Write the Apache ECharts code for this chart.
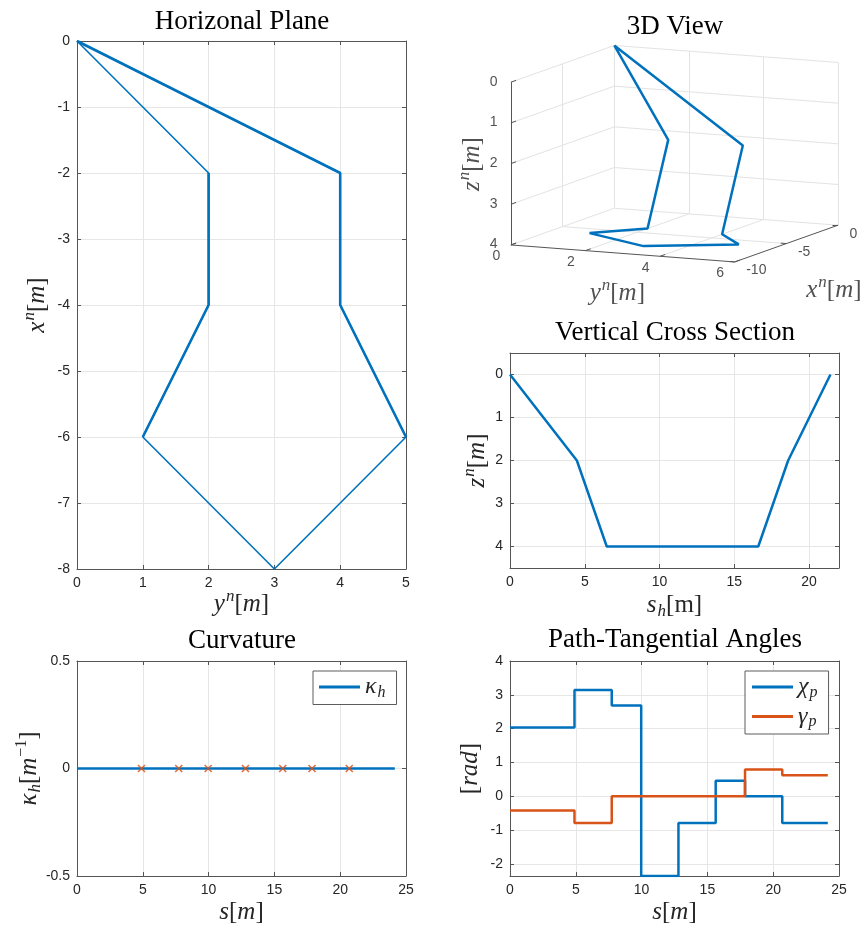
<!DOCTYPE html>
<html><head><meta charset="utf-8">
<script src="https://cdn.jsdelivr.net/npm/echarts@6/dist/echarts.min.js"></script>
<style>html,body{margin:0;padding:0;background:#fff}#c{width:868px;height:931px}</style>
</head><body><div id="c"></div>
<script>
// ---------------- data ----------------
const wpX = [0, -2, -4, -6, -8, -6, -4, -2, 0];      // x^n [m]
const wpY = [0, 4, 4, 5, 3, 1, 2, 2, 0];             // y^n [m]
const wpZ = [0, 2, 4, 4, 4, 4, 4, 2, 0];             // z^n [m]
const sH = [0, 4.47, 6.47, 8.71, 11.54, 14.37, 16.60, 18.60, 21.43];   // horizontal arc length
const sPath = [0, 4.90, 7.73, 9.97, 12.80, 15.63, 17.86, 20.69, 24.15]; // path length at knots
const kappaH = [0, 0, 0, 0, 0, 0, 0, 0, 0];
const chiP = [2.03, 3.14, 2.68, -2.36, -0.79, 0.46, 0.00, -0.79];
const gammaP = [-0.42, -0.79, 0, 0, 0, 0, 0.79, 0.62];
const ticks3dX = [-10, -5, 0];
const ticks3dY = [0, 2, 4, 6];
const ticks3dZ = [0, 1, 2, 3, 4];
const thickRuns = [[0, 3], [5, 7]];   // waypoint index runs drawn thicker in the horizontal plane

// ---------------- styles ----------------
const BLUE = '#0072BD', ORANGE = '#D95319';
const TXT = '#262626', AXC = '#555555', GRIDC = '#e6e6e6';
const SERIF = "'Liberation Serif', 'DejaVu Serif', serif";
const SANS = "'Liberation Sans', Arial, sans-serif";
const TICKFS = 14;
const richMath = {
  i: {fontFamily: SERIF, fontStyle: 'italic', fontSize: 25, color: TXT},
  r: {fontFamily: SERIF, fontSize: 25, color: TXT},
  sp: {fontFamily: SERIF, fontStyle: 'italic', fontSize: 17, color: TXT, padding: [0, 0, 15, 1]},
  spr: {fontFamily: SERIF, fontSize: 16, color: TXT, padding: [0, 0, 15, 1]},
  sb: {fontFamily: SERIF, fontStyle: 'italic', fontSize: 17, color: TXT, padding: [13, 0, 0, 1]}
};
const richLeg = {
  i: {fontFamily: SERIF, fontStyle: 'italic', fontSize: 24, color: TXT},
  sb: {fontFamily: SERIF, fontStyle: 'italic', fontSize: 16, color: TXT, padding: [11, 0, 0, 1]}
};

// ---------------- 3D projection (orthographic view) ----------------
const lim3d = {x: [-10, 0], y: [0, 6], z: [0, 4]};
const view3d = {cx: 674.5, cy: 153.7, az: 65.2, el: 9.45, Lxy: 246.5, Lz: 165};
function proj(X, Y, Z) {
  const u = (X - lim3d.x[0]) / (lim3d.x[1] - lim3d.x[0]) - 0.5;
  const v = (Y - lim3d.y[0]) / (lim3d.y[1] - lim3d.y[0]) - 0.5;
  const w = (Z - lim3d.z[0]) / (lim3d.z[1] - lim3d.z[0]) - 0.5;
  const a = view3d.az * Math.PI / 180, e = view3d.el * Math.PI / 180;
  const sx = view3d.cx + view3d.Lxy * (u * Math.cos(a) + v * Math.sin(a));
  const sy = view3d.cy - (view3d.Lxy * Math.sin(e) * (u * Math.sin(a) - v * Math.cos(a)) - view3d.Lz * Math.cos(e) * w);
  return [sx, sy];
}
const [X0, X1] = lim3d.x, [Y0, Y1] = lim3d.y, [Z0, Z1] = lim3d.z;
const grid3d = [];
ticks3dZ.forEach(z => grid3d.push([[X0, Y0, z], [X1, Y0, z]]));
ticks3dX.forEach(x => { if (x !== X0) grid3d.push([[x, Y0, Z0], [x, Y0, Z1]]); });
ticks3dZ.forEach(z => grid3d.push([[X1, Y0, z], [X1, Y1, z]]));
ticks3dY.forEach(y => { if (y !== Y0) grid3d.push([[X1, y, Z0], [X1, y, Z1]]); });
ticks3dY.forEach(y => { if (y !== Y0 && y !== Y1) grid3d.push([[X0, y, Z1], [X1, y, Z1]]); });
ticks3dX.forEach(x => { if (x !== X0 && x !== X1) grid3d.push([[x, Y0, Z1], [x, Y1, Z1]]); });
const axes3d = [[[X0, Y0, Z0], [X0, Y0, Z1]], [[X0, Y0, Z1], [X0, Y1, Z1]], [[X0, Y1, Z1], [X1, Y1, Z1]]];
const tickSeg3d = [];
ticks3dZ.forEach(z => tickSeg3d.push([[X0, Y0, z], [X0 + 0.5, Y0, z]]));
ticks3dY.forEach(y => tickSeg3d.push([[X0, y, Z1], [X0 + 0.5, y, Z1]]));
ticks3dX.forEach(x => tickSeg3d.push([[x, Y1, Z1], [x, Y1 - 0.15, Z1]]));
const segData = segs => segs.map(s => ({coords: [proj(...s[0]), proj(...s[1])]}));

// ---------------- axes helpers ----------------
function axis(dir, gi, o, mirror) {
  const a = Object.assign({
    type: 'value', gridIndex: gi,
    axisLine: {show: true, onZero: false, lineStyle: {color: AXC, width: 1}},
    axisTick: {show: true, inside: true, length: 4, lineStyle: {color: AXC, width: 1}},
    axisLabel: {show: !mirror, color: TXT, fontFamily: SANS, fontSize: TICKFS, margin: 7},
    splitLine: {show: !mirror, lineStyle: {color: GRIDC, width: 1}},
    nameLocation: 'middle', nameMoveOverlap: false,
    nameTextStyle: {rich: richMath, fontFamily: SERIF, fontSize: 25, color: TXT}
  }, o);
  if (mirror) { delete a.name; a.position = dir === 'x' ? 'top' : 'right'; a.axisLabel = {show: false}; }
  else a.position = dir === 'x' ? 'bottom' : 'left';
  return a;
}
const intOnly = v => (Math.abs(v - Math.round(v)) < 1e-9 ? String(Math.round(v)) : '');
const mult5 = v => (Math.abs(v / 5 - Math.round(v / 5)) < 1e-9 ? String(v) : '');
const lab = f => ({show: true, color: TXT, fontFamily: SANS, fontSize: TICKFS, margin: 7, formatter: f});

const ax0x = {min: 0, max: 5, interval: 1, name: '{i|y}{sp|n}{r|[}{i|m}{r|]}', nameGap: 19};
const ax0y = {min: -8, max: 0, interval: 1, name: '{i|x}{sp|n}{r|[}{i|m}{r|]}', nameGap: 24};
const ax2x = {min: 0, max: 22, interval: 5, name: '{i|s}{sb|h}{r|[m]}', nameGap: 22};
const ax2y = {min: -0.5, max: 4.5, minInterval: 1, maxInterval: 1, inverse: true, name: '{i|z}{sp|n}{r|[}{i|m}{r|]}', nameGap: 17};
const ax3x = {min: 0, max: 25, interval: 5, name: '{i|s}{r|[}{i|m}{r|]}', nameGap: 24};
const ax3y = {min: -0.5, max: 0.5, interval: 0.5, name: '{i|κ}{sb|h}{r|[}{i|m}{spr|−1}{r|]}', nameGap: 32};
const ax4x = {min: 0, max: 25, interval: 5, name: '{i|s}{r|[}{i|m}{r|]}', nameGap: 24};
const ax4y = {min: -2.36, max: 4, minInterval: 1, maxInterval: 1, name: '{r|[}{i|rad}{r|]}', nameGap: 27};

const xAxes = [
  axis('x', 0, ax0x), axis('x', 0, ax0x, true),
  {type: 'value', gridIndex: 1, min: 0, max: 868, show: false},
  axis('x', 2, Object.assign({}, ax2x, {axisLabel: lab(mult5)})), axis('x', 2, ax2x, true),
  axis('x', 3, ax3x), axis('x', 3, ax3x, true),
  axis('x', 4, ax4x), axis('x', 4, ax4x, true)
];
const yAxes = [
  axis('y', 0, ax0y), axis('y', 0, ax0y, true),
  {type: 'value', gridIndex: 1, min: 0, max: 931, inverse: true, show: false},
  axis('y', 2, Object.assign({}, ax2y, {axisLabel: lab(intOnly)})), axis('y', 2, ax2y, true),
  axis('y', 3, ax3y), axis('y', 3, ax3y, true),
  axis('y', 4, Object.assign({}, ax4y, {axisLabel: lab(intOnly)})), axis('y', 4, ax4y, true)
];

// ---------------- series ----------------
const series = [];
// Horizontal plane
series.push({type: 'line', xAxisIndex: 0, yAxisIndex: 0, symbol: 'none', silent: true, z: 3,
  data: wpY.map((y, i) => [y, wpX[i]]), lineStyle: {color: BLUE, width: 1.6}});
thickRuns.forEach(r => series.push({type: 'line', xAxisIndex: 0, yAxisIndex: 0, symbol: 'none', silent: true, z: 4,
  data: wpY.slice(r[0], r[1] + 1).map((y, k) => [y, wpX[r[0] + k]]), lineStyle: {color: BLUE, width: 2.6}}));
// 3D view
series.push({type: 'lines', coordinateSystem: 'cartesian2d', xAxisIndex: 2, yAxisIndex: 2, silent: true, z: 1,
  data: segData(grid3d), lineStyle: {color: '#e3e3e3', width: 1, opacity: 1, curveness: 0}});
series.push({type: 'lines', coordinateSystem: 'cartesian2d', xAxisIndex: 2, yAxisIndex: 2, silent: true, z: 2,
  data: segData(axes3d.concat(tickSeg3d)), lineStyle: {color: AXC, width: 1, opacity: 1, curveness: 0}});
series.push({type: 'line', xAxisIndex: 2, yAxisIndex: 2, symbol: 'none', silent: true, z: 3, clip: false,
  data: wpX.map((x, i) => proj(x, wpY[i], wpZ[i])), lineStyle: {color: BLUE, width: 2.5}});
function labelSeries(items, l) {
  return {type: 'scatter', xAxisIndex: 2, yAxisIndex: 2, symbolSize: 1, silent: true, z: 5, clip: false,
    itemStyle: {color: 'rgba(0,0,0,0)'},
    data: items,
    label: Object.assign({show: true, formatter: '{b}', color: TXT, fontFamily: SANS, fontSize: TICKFS, verticalAlign: 'middle'}, l)};
}
series.push(labelSeries(ticks3dZ.map(z => ({name: String(z), value: proj(X0, Y0, z)})), {position: [-13, 0], align: 'right'}));
series.push(labelSeries(ticks3dY.map(y => ({name: String(y), value: proj(X0, y, Z1)})), {position: [-14, 12], align: 'center'}));
series.push(labelSeries(ticks3dX.map(x => ({name: String(x), value: proj(x, Y1, Z1)})), {position: [12, 9], align: 'left'}));
series.push(labelSeries([{name: '{i|z}{sp|n}{r|[}{i|m}{r|]}', value: proj(X0, Y0, (Z0 + Z1) / 2)}],
  {position: [-38, 1], align: 'center', rotate: 90, rich: richMath}));
series.push(labelSeries([{name: '{i|y}{sp|n}{r|[}{i|m}{r|]}', value: proj(X0, (Y0 + Y1) / 2, Z1)}],
  {position: [-5, 40], align: 'center', rich: richMath}));
series.push(labelSeries([{name: '{i|x}{sp|n}{r|[}{i|m}{r|]}', value: proj((X0 + X1) / 2, Y1, Z1)}],
  {position: [48, 47], align: 'center', rich: richMath}));
// Vertical cross section
series.push({type: 'line', xAxisIndex: 3, yAxisIndex: 3, symbol: 'none', silent: true, z: 3,
  data: sH.map((s, i) => [s, wpZ[i]]), lineStyle: {color: BLUE, width: 2.5}});
// Curvature
series.push({name: 'kappa', type: 'line', xAxisIndex: 5, yAxisIndex: 5, symbol: 'none', silent: true, z: 3,
  data: sPath.map((s, i) => [s, kappaH[i]]), lineStyle: {color: BLUE, width: 2.5}, itemStyle: {color: BLUE}});
series.push({type: 'scatter', xAxisIndex: 5, yAxisIndex: 5, silent: true, z: 4,
  symbol: 'path://M0 0L10 10M10 0L0 10', symbolSize: 7,
  itemStyle: {color: 'rgba(0,0,0,0)', borderColor: ORANGE, borderWidth: 1.7},
  data: sPath.slice(1, -1).map((s, i) => [s, kappaH[i + 1]])});
// Path-tangential angles
series.push({name: 'chi', type: 'line', xAxisIndex: 7, yAxisIndex: 7, symbol: 'none', silent: true, z: 3, step: 'end',
  data: sPath.map((s, i) => [s, chiP[Math.min(i, chiP.length - 1)]]), lineStyle: {color: BLUE, width: 2.5}, itemStyle: {color: BLUE}});
series.push({name: 'gamma', type: 'line', xAxisIndex: 7, yAxisIndex: 7, symbol: 'none', silent: true, z: 3, step: 'end',
  data: sPath.map((s, i) => [s, gammaP[Math.min(i, gammaP.length - 1)]]), lineStyle: {color: ORANGE, width: 2.5}, itemStyle: {color: ORANGE}});

const legNames = {kappa: '{i|κ}{sb|h}', chi: '{i|χ}{sb|p}', gamma: '{i|γ}{sb|p}'};
const legBase = {selectedMode: false, icon: 'rect', itemWidth: 41, itemHeight: 3, backgroundColor: '#fff',
  borderColor: '#5c5c5c', borderWidth: 1, borderRadius: 0, formatter: n => legNames[n],
  textStyle: {rich: richLeg, fontFamily: SERIF, fontSize: 24, color: TXT}};

const titleStyle = {fontFamily: SERIF, fontSize: 27, fontWeight: 'normal', color: '#000'};
const titles = [
  {text: 'Horizonal Plane', left: 242, top: 8},
  {text: '3D View', left: 675, top: 13.5},
  {text: 'Vertical Cross Section', left: 675, top: 319.5},
  {text: 'Curvature', left: 242, top: 627.5},
  {text: 'Path-Tangential Angles', left: 675, top: 626.5}
].map(t => Object.assign(t, {textAlign: 'center', padding: 0, textStyle: titleStyle}));

const chart = echarts.init(document.getElementById('c'), null, {renderer: 'canvas', width: 868, height: 931});
chart.setOption({
  backgroundColor: '#fff',
  animation: false,
  title: titles,
  grid: [
    {left: 77, top: 41, width: 329, height: 528},
    {left: 0, top: 0, width: 868, height: 931},
    {left: 510, top: 353, width: 329, height: 215},
    {left: 77, top: 661, width: 329, height: 215},
    {left: 510, top: 661, width: 329, height: 215}
  ],
  xAxis: xAxes,
  yAxis: yAxes,
  legend: [
    Object.assign({}, legBase, {data: ['kappa'], left: 313, top: 671, padding: [4, 11, 4, 6]}),
    Object.assign({}, legBase, {data: ['chi', 'gamma'], orient: 'vertical', left: 745, top: 671, itemGap: 4, padding: [4, 11, 4, 7]})
  ],
  series: series
});
</script></body></html>
